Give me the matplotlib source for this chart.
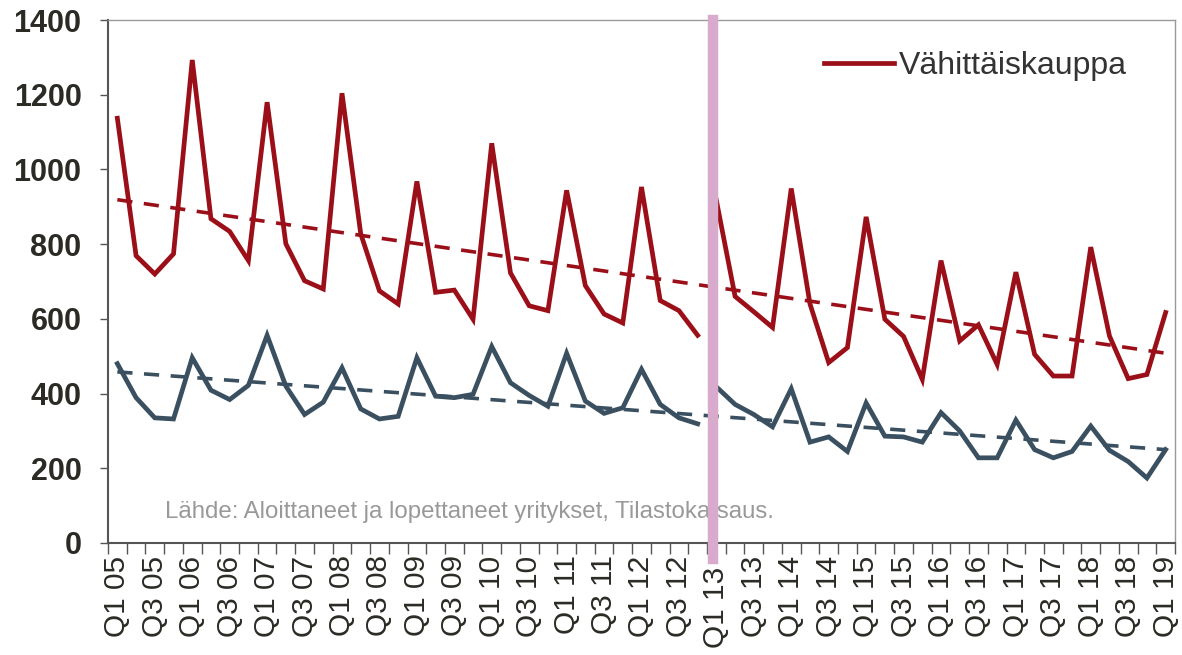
import matplotlib
matplotlib.use('Agg')
import matplotlib.pyplot as plt
from matplotlib.transforms import ScaledTranslation

# neljännekset Q1 05 ... Q1 19
quarters = [f'Q{q} {y:02d}' for y in range(5, 20) for q in range(1, 5)][:57]

# Vähittäiskauppa (punainen)
retail = [1137, 769, 720, 774, 1293, 868, 834, 756, 1180, 801, 702, 680,
          1204, 828, 675, 640, 968, 671, 677, 599, 1070, 723, 635, 622,
          944, 689, 613, 589, 953, 649, 622, 556,
          917, 660, 619, 577, 949, 640, 483, 523, 873, 599, 553, 438,
          756, 541, 584, 478, 725, 505, 447, 447, 792, 554, 440, 451, 617]

# toinen sarja (sinharmaa)
other = [480, 389, 335, 332, 496, 409, 384, 422, 556, 420, 344, 377,
         469, 359, 332, 339, 496, 393, 389, 398, 526, 429, 395, 366,
         508, 380, 347, 362, 465, 371, 335, 319,
         418, 371, 344, 311, 413, 270, 284, 245, 375, 286, 284, 270,
         349, 300, 228, 228, 329, 250, 228, 245, 313, 248, 218, 174, 250]

# trendiviivojen alku- ja loppuarvot kuvasta luettuna
retail_trend = [919, 508]
other_trend = [458, 250]

break_idx = 32  # katko Q4 12 / Q1 13 välissä

red = '#9B0F19'
blue = '#3A5060'

plt.rcParams['font.family'] = ['Liberation Sans', 'DejaVu Sans']

fig = plt.figure(figsize=(11.82, 6.55), dpi=100)
ax = fig.add_axes([108/1182, 112/655, 1067/1182, 523/655])

x = list(range(len(quarters)))

ax.plot(x[:break_idx], retail[:break_idx], color=red, lw=3.4, solid_joinstyle='miter', label='Vähittäiskauppa')
ax.plot(x[break_idx:], retail[break_idx:], color=red, lw=3.4, solid_joinstyle='miter')
ax.plot(x[:break_idx], other[:break_idx], color=blue, lw=3.4, solid_joinstyle='miter')
ax.plot(x[break_idx:], other[break_idx:], color=blue, lw=3.4, solid_joinstyle='miter')

ax.plot([x[0], x[-1]], retail_trend, color=red, lw=2.6, linestyle=(0, (4.2, 3.2)))
ax.plot([x[0], x[-1]], other_trend, color=blue, lw=2.6, linestyle=(0, (4.2, 3.2)))

# pystyviiva katkon kohdalla
ax.axvline(31.8, ymin=-0.03, ymax=1, color='#D8AACB', lw=7.5, clip_on=False, zorder=5)

ax.set_xlim(-0.5, len(quarters) - 0.5)
ax.set_ylim(0, 1400)
ax.set_yticks(range(0, 1401, 200))
ax.tick_params(axis='y', length=6, width=1, color='#555555', pad=13,
               labelsize=22, labelcolor='#2B2A24')
for lab in ax.get_yticklabels():
    lab.set_fontweight('bold')

ax.set_xticks(x[::2])
ax.set_xticklabels(quarters[::2], rotation=90)
ax.set_xticks([i - 0.5 for i in range(len(quarters) + 1)], minor=True)
ax.tick_params(axis='x', which='major', length=0, pad=9, labelsize=21.5, labelcolor='#2B2A24')
ax.tick_params(axis='x', which='minor', length=8, width=1, color='#555555')

# Q1 13 -teksti on alempana
lab13 = ax.get_xticklabels()[break_idx // 2]
lab13.set_transform(lab13.get_transform() + ScaledTranslation(0, -8/72, fig.dpi_scale_trans))

for s in ['left', 'bottom']:
    ax.spines[s].set_color('#555555')
    ax.spines[s].set_linewidth(1.5)
for s in ['top', 'right']:
    ax.spines[s].set_color('#999999')
    ax.spines[s].set_linewidth(1)

ax.legend(loc='center right', bbox_to_anchor=(0.955, 0.912), frameon=False,
          fontsize=23, handlelength=2.2, handletextpad=0.15, borderpad=0, borderaxespad=0,
          labelcolor='#333333')

ax.text(0.0534, 0.059, 'Lähde: Aloittaneet ja lopettaneet yritykset, Tilastokatsaus.',
        transform=ax.transAxes, fontsize=17.3, color='#999999', va='center', ha='left')

fig.savefig('out.png', dpi=100)
